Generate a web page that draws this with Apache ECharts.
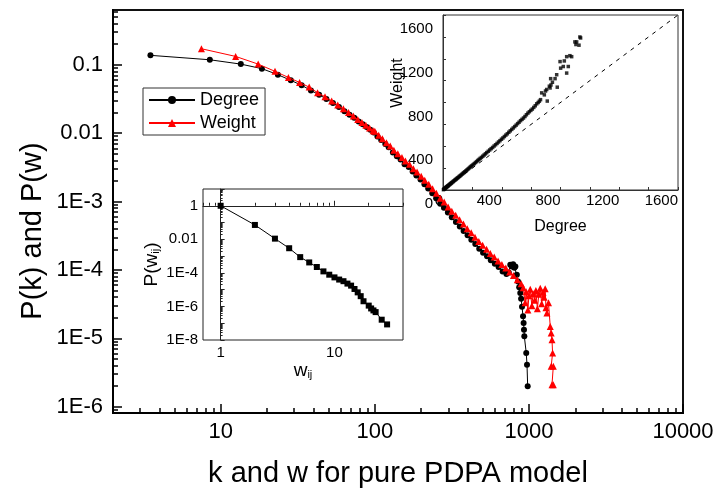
<!DOCTYPE html>
<html><head><meta charset="utf-8">
<script src="https://cdn.jsdelivr.net/npm/echarts@6/dist/echarts.min.js"></script>
<style>html,body{margin:0;padding:0;background:#fff}#c{width:715px;height:488px}</style>
</head><body><div id="c"></div>
<script>
// ---------- main chart: P(k) and P(w) ----------
const degreeK = [3.5, 8.5, 13.5, 18.5, 23.5, 28.5, 33.5, 38.5, 43.5, 48.5, 53.5, 58.5, 63.5, 68.5, 73.5, 78.5, 83.5, 88.5, 93.5, 98.5,
  104, 110, 117, 123, 131, 139, 147, 156, 166, 176, 186, 198, 210, 222, 236, 250, 266, 281, 298, 316, 336, 356, 377, 400, 423, 449, 476, 504, 535, 566, 601, 636, 675, 715, 740,
  757, 775, 790, 805, 817, 835, 850, 865, 879, 890, 902, 916, 924, 929, 934, 961, 972, 982];
const degreeP = [0.137, 0.118, 0.102, 0.0875, 0.0714, 0.059, 0.050, 0.042, 0.0363, 0.0316, 0.0275, 0.024, 0.0209, 0.0186, 0.0168, 0.0148, 0.0135, 0.0123, 0.0112, 0.0102,
  0.0089, 0.0079, 0.0069, 0.0062, 0.0052, 0.0046, 0.0041, 0.0035, 0.0032, 0.00275, 0.0024, 0.0021, 0.00178, 0.00155, 0.00132, 0.00112, 0.00093, 0.00081, 0.00069, 0.00059, 0.00050, 0.00043, 0.00037, 0.00032, 0.000275, 0.00024, 0.000204, 0.000178, 0.000158, 0.000138, 0.000123, 0.000110, 0.000095, 0.000087, 0.000092,
  0.000119, 0.000112, 0.000121, 0.000108, 0.000112, 0.000085, 0.000068, 0.000056, 0.000046, 0.000038, 0.000029, 0.000021, 0.0000167, 0.0000134, 0.0000107, 0.0000061, 0.0000041, 0.0000020];

const weightW = [7.5, 12.5, 17.5, 22.5, 27.5, 32.5, 37.5, 42.5, 47.5, 52.5, 57.5, 62.5, 67.5, 72.5, 77.5, 82.5, 87.5, 92.5, 97.5,
  100, 106, 112, 119, 126, 133, 141, 150, 158, 168, 178, 188, 200, 211, 224, 237, 251, 266, 282, 299, 316, 335, 355, 376, 398, 422, 447, 473, 501, 531, 562, 596, 631, 668, 708, 750, 794, 841, 891,
  920, 945, 960, 985, 1000, 1020, 1045, 1065, 1090, 1110, 1135, 1160, 1185, 1210, 1235, 1255, 1275, 1290, 1309, 1340, 1376, 1395, 1412, 1425, 1395, 1440, 1412, 1440];
const weightP = [0.171, 0.132, 0.102, 0.080, 0.065, 0.055, 0.047, 0.039, 0.034, 0.0295, 0.0257, 0.0226, 0.0200, 0.0178, 0.0158, 0.0143, 0.0130, 0.0119, 0.0108,
  0.0106, 0.0093, 0.0083, 0.0072, 0.0065, 0.0056, 0.0050, 0.0044, 0.0039, 0.0035, 0.0030, 0.0027, 0.00234, 0.00204, 0.00178, 0.00153, 0.00132, 0.00112, 0.00098, 0.00083, 0.00072, 0.00063, 0.00054, 0.00047, 0.00040, 0.00035, 0.00030, 0.00026, 0.00023, 0.00020, 0.000174, 0.000155, 0.000135, 0.000120, 0.000107, 0.000093, 0.000083, 0.000072, 0.000063,
  0.000055, 0.000033, 0.000048, 0.000026, 0.000042, 0.000052, 0.000030, 0.000045, 0.000036, 0.000050, 0.000027, 0.000044, 0.000054, 0.000032, 0.000047, 0.000040, 0.000053, 0.000028, 0.0000234, 0.000033, 0.0000149, 0.000012, 0.0000095, 0.0000061, 0.0000039, 0.0000039, 0.0000021, 0.0000021];

const mainXRange = [2, 10000];
const mainYRange = [8.1e-7, 0.63];
const mainXTicks = [10, 100, 1000, 10000];
const mainXTickLabels = ['10', '100', '1000', '10000'];
const mainYTicks = [0.1, 0.01, 1e-3, 1e-4, 1e-5, 1e-6];
const mainYTickLabels = ['0.1', '0.01', '1E-3', '1E-4', '1E-5', '1E-6'];

// ---------- upper-right inset: Weight vs Degree ----------
const insetDegree = [3, 6, 9, 12, 15, 18, 21, 24, 27, 30, 33, 36, 40, 44, 48, 52, 56, 60, 65, 70, 75, 80, 85, 90, 95, 100, 106, 112, 118, 124, 130, 136, 142, 148, 155, 162, 169, 176, 183, 190, 197, 205, 213, 221, 229, 237, 245, 253, 262, 271, 280, 289, 298, 308, 318, 328, 338, 348, 358, 368, 378, 388, 398, 408, 418, 428, 438, 448, 458, 468, 478, 488, 498, 508, 518, 528, 538, 548, 558, 568, 578, 588, 598, 608, 618, 628, 638, 648, 656, 664,
  672, 690, 698, 706, 710, 724, 729, 733, 735, 745, 763, 774, 778, 797, 801, 819, 826, 842, 842, 853, 864, 876, 898, 905, 910, 926, 932, 937];
const insetWeight = [3, 7, 10, 13, 17, 20, 24, 27, 30, 34, 37, 40, 45, 49, 54, 58, 63, 67, 73, 78, 84, 89, 95, 100, 106, 111, 118, 125, 131, 138, 145, 152, 159, 166, 174, 182, 190, 198, 207, 215, 223, 232, 241, 251, 260, 270, 279, 289, 298, 309, 320, 331, 342, 354, 366, 378, 389, 402, 414, 426, 439, 451, 464, 476, 489, 502, 514, 528, 541, 554, 567, 580, 593, 607, 620, 634, 646, 658, 672, 688, 703, 716, 728, 740, 755, 770, 788, 800, 812, 826,
  888, 870, 905, 919, 813, 949, 933, 1018, 960, 985, 1018, 1054, 940, 1174, 1114, 1129, 1180, 1069, 1219, 1129, 1228, 1219, 1354, 1330, 1354, 1324, 1399, 1390];
const diagonalDegree = [0, 1600];
const diagonalWeight = [0, 1600];
const insetTicks = [0, 200, 400, 600, 800, 1000, 1200, 1400, 1600];
const insetXTickLabels = [0, 400, 800, 1200, 1600];
const insetYTickLabels = [0, 400, 800, 1200, 1600];

// ---------- lower-left inset: P(w_ij) ----------
const wij = [1, 2, 3, 4, 5, 6, 7, 8, 9, 10, 11, 12, 13, 14, 15, 16, 17, 18, 20, 21, 22, 23, 26, 29];
const pwij = [1, 0.072, 0.011, 0.00295, 8.7e-4, 4.2e-4, 2.24e-4, 1.23e-4, 7.8e-5, 5.4e-5, 4.0e-5, 3.2e-5, 2.3e-5, 1.74e-5, 1.10e-5, 6.9e-6, 4.1e-6, 2.04e-6, 1.12e-6, 7.6e-7, 5.8e-7, 4.6e-7, 1.62e-7, 8.5e-8];
const inset2XRange = [0.7, 40];
const inset2YRange = [1e-8, 10];
const inset2XTicks = [1, 10];
const inset2XTickLabels = ['1', '10'];
const inset2YTicks = [1, 0.01, 1e-4, 1e-6, 1e-8];
const inset2YTickLabels = ['1', '0.01', '1E-4', '1E-6', '1E-8'];

// ---------- helpers ----------
const L = Math.log10;
function fmt(ticks, labels) {
  return function (v) {
    for (let i = 0; i < ticks.length; i++) if (Math.abs(L(ticks[i]) - v) < 1e-6) return labels[i];
    return '';
  };
}
function decades(lo, hi) { const r = []; for (let d = lo; d <= hi; d++) r.push(d); return r; }
function minors(lo, hi, range) {
  const r = [];
  for (let d = lo; d <= hi; d++) for (let m = 2; m <= 9; m++) {
    const v = m * Math.pow(10, d);
    if (v >= range[0] && v <= range[1]) r.push(L(v));
  }
  return r;
}
const FONT = 'Liberation Sans, Arial, sans-serif';
const BLACK = '#000';

const chart = echarts.init(document.getElementById('c'), null, { renderer: 'canvas' });

const baseAxis = { type: 'value', splitLine: { show: false }, nameMoveOverlap: false };
const lbl = { interval: 0, showMinLabel: true, showMaxLabel: true, hideOverlap: false, color: BLACK, fontFamily: FONT };

const option = {
  animation: false,
  backgroundColor: '#fff',
  textStyle: { fontFamily: FONT, color: BLACK },
  grid: [
    { left: 113, top: 10, width: 570, height: 403, show: true, borderColor: '#111', borderWidth: 2, containLabel: false, outerBoundsMode: 'none' },
    { left: 443, top: 15, width: 235, height: 175, show: true, borderColor: '#333', borderWidth: 1, containLabel: false, outerBoundsMode: 'none' },
    { left: 203, top: 189, width: 200, height: 151, show: true, borderColor: '#222', borderWidth: 1, containLabel: false, outerBoundsMode: 'none' }
  ],
  legend: {
    data: ['Degree', 'Weight'], orient: 'vertical', left: 143, top: 88,
    borderColor: '#333', borderWidth: 1, padding: [3, 6, 3, 5],
    itemWidth: 46, itemHeight: 10, itemGap: 5,
    textStyle: { fontSize: 18, color: BLACK, fontFamily: FONT }
  },
  xAxis: [
    Object.assign({}, baseAxis, {
      gridIndex: 0, position: 'bottom', min: L(mainXRange[0]), max: L(mainXRange[1]),
      axisLine: { lineStyle: { color: BLACK, width: 2 } },
      axisTick: { inside: true, length: 9, customValues: mainXTicks.map(L), lineStyle: { color: BLACK, width: 1.5 } },
      axisLabel: Object.assign({}, lbl, { customValues: mainXTicks.map(L), formatter: fmt(mainXTicks, mainXTickLabels), fontSize: 22, margin: 8 }),
      name: 'k and w for pure PDPA model', nameLocation: 'middle', nameGap: 46,
      nameTextStyle: { fontSize: 29, color: BLACK, fontFamily: FONT }
    }),
    Object.assign({}, baseAxis, {
      gridIndex: 0, position: 'bottom', min: L(mainXRange[0]), max: L(mainXRange[1]),
      axisLine: { show: false },
      axisTick: { inside: true, length: 5, customValues: minors(0, 3, mainXRange), lineStyle: { color: BLACK, width: 1.5 } },
      axisLabel: { show: false }
    }),
    Object.assign({}, baseAxis, {
      gridIndex: 1, position: 'bottom', min: 0, max: 1600,
      axisLine: { lineStyle: { color: '#333', width: 1 } },
      axisTick: { inside: true, length: 3, customValues: insetTicks, lineStyle: { color: '#333' } },
      axisLabel: Object.assign({}, lbl, { customValues: insetXTickLabels, formatter: v => String(v), align: 'right', fontSize: 15, margin: 3 }),
      name: 'Degree', nameLocation: 'middle', nameGap: 29,
      nameTextStyle: { fontSize: 16, color: BLACK, fontFamily: FONT }
    }),
    Object.assign({}, baseAxis, {
      gridIndex: 2, position: 'bottom', min: L(inset2XRange[0]), max: L(inset2XRange[1]),
      axisLine: { lineStyle: { color: '#222', width: 1 } },
      axisTick: { inside: true, length: 5, customValues: inset2XTicks.map(L), lineStyle: { color: '#222' } },
      axisLabel: Object.assign({}, lbl, { customValues: inset2XTicks.map(L), formatter: fmt(inset2XTicks, inset2XTickLabels), fontSize: 15, margin: 5 }),
      name: '{a|w}{b|ij}', nameLocation: 'middle', nameGap: 21,
      nameTextStyle: { rich: {
        a: { fontSize: 19, fontFamily: FONT, color: BLACK, verticalAlign: 'top', lineHeight: 19 },
        b: { fontSize: 11, fontFamily: FONT, color: BLACK, verticalAlign: 'bottom', lineHeight: 11, padding: [14, 0, 0, 0] }
      } }
    }),
    Object.assign({}, baseAxis, {
      gridIndex: 2, position: 'bottom', min: L(inset2XRange[0]), max: L(inset2XRange[1]),
      axisLine: { show: false },
      axisTick: { inside: true, length: 3, customValues: minors(-1, 1, inset2XRange), lineStyle: { color: '#222' } },
      axisLabel: { show: false }
    })
  ],
  yAxis: [
    Object.assign({}, baseAxis, {
      gridIndex: 0, position: 'left', min: L(mainYRange[0]), max: L(mainYRange[1]),
      axisLine: { lineStyle: { color: BLACK, width: 2 } },
      axisTick: { inside: true, length: 9, customValues: mainYTicks.map(L), lineStyle: { color: BLACK, width: 1.5 } },
      axisLabel: Object.assign({}, lbl, { customValues: mainYTicks.map(L), formatter: fmt(mainYTicks, mainYTickLabels), fontSize: 22, margin: 10 }),
      name: 'P(k) and P(w)', nameLocation: 'middle', nameGap: 66,
      nameTextStyle: { fontSize: 29, color: BLACK, fontFamily: FONT, padding: [0, 39, 0, 0] }
    }),
    Object.assign({}, baseAxis, {
      gridIndex: 0, position: 'left', min: L(mainYRange[0]), max: L(mainYRange[1]),
      axisLine: { show: false },
      axisTick: { inside: true, length: 5, customValues: minors(-7, -1, mainYRange), lineStyle: { color: BLACK, width: 1.5 } },
      axisLabel: { show: false }
    }),
    Object.assign({}, baseAxis, {
      gridIndex: 1, position: 'left', min: 0, max: 1600,
      axisLine: { lineStyle: { color: '#333', width: 1 } },
      axisTick: { inside: true, length: 3, customValues: insetTicks, lineStyle: { color: '#333' } },
      axisLabel: Object.assign({}, lbl, { customValues: insetYTickLabels, formatter: v => '\n\n' + v, lineHeight: 14, fontSize: 15, margin: 10 }),
      name: 'Weight', nameLocation: 'middle', nameGap: 37,
      nameTextStyle: { fontSize: 16, color: BLACK, fontFamily: FONT, padding: [0, 0, 0, 39] }
    }),
    Object.assign({}, baseAxis, {
      gridIndex: 2, position: 'left', min: L(inset2YRange[0]), max: L(inset2YRange[1]),
      axisLine: { lineStyle: { color: '#222', width: 1 } },
      axisTick: { inside: true, length: 4, customValues: decades(-8, 1), lineStyle: { color: '#222' } },
      axisLabel: Object.assign({}, lbl, { customValues: inset2YTicks.map(L), formatter: fmt(inset2YTicks, inset2YTickLabels), fontSize: 15, margin: 5 }),
      name: '{a|P(w}{b|ij}{a|)}', nameLocation: 'middle', nameGap: 42,
      nameTextStyle: { rich: {
        a: { fontSize: 19, fontFamily: FONT, color: BLACK, verticalAlign: 'top', lineHeight: 19 },
        b: { fontSize: 11, fontFamily: FONT, color: BLACK, verticalAlign: 'bottom', lineHeight: 11, padding: [14, 0, 0, 0] }
      } }
    }),
    Object.assign({}, baseAxis, {
      gridIndex: 2, position: 'left', min: L(inset2YRange[0]), max: L(inset2YRange[1]),
      axisLine: { show: false },
      axisTick: { inside: true, length: 2, customValues: minors(-8, 0, inset2YRange), lineStyle: { color: '#222' } },
      axisLabel: { show: false }
    })
  ],
  series: [
    {
      name: 'Degree', type: 'line', xAxisIndex: 0, yAxisIndex: 0,
      data: degreeK.map((k, i) => [L(k), L(degreeP[i])]),
      symbol: 'circle', symbolSize: 6, color: BLACK,
      itemStyle: { color: BLACK }, lineStyle: { color: BLACK, width: 1 }, z: 3
    },
    {
      name: 'Weight', type: 'line', xAxisIndex: 0, yAxisIndex: 0,
      data: weightW.map((w, i) => [L(w), L(weightP[i])]),
      symbol: 'triangle', symbolSize: 7, color: '#ff0000',
      itemStyle: { color: '#ff0000' }, lineStyle: { color: '#ff0000', width: 1 }, z: 4
    },
    {
      name: 'inset scatter', type: 'scatter', xAxisIndex: 2, yAxisIndex: 2,
      data: insetDegree.map((d, i) => [d, insetWeight[i]]),
      symbol: 'rect', symbolSize: 3.5, itemStyle: { color: BLACK }
    },
    {
      name: 'diagonal', type: 'line', xAxisIndex: 2, yAxisIndex: 2,
      data: diagonalDegree.map((d, i) => [d, diagonalWeight[i]]),
      symbol: 'none', lineStyle: { color: BLACK, width: 1, type: [4, 5] }
    },
    {
      name: 'P(wij)', type: 'line', xAxisIndex: 3, yAxisIndex: 3,
      data: wij.map((w, i) => [L(w), L(pwij[i])]),
      symbol: 'rect', symbolSize: 6, itemStyle: { color: BLACK }, lineStyle: { color: BLACK, width: 1 }
    }
  ]
};
chart.setOption(option);
</script>
</body></html>
